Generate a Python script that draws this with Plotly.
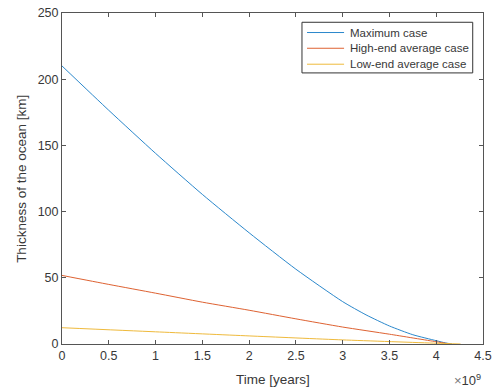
import plotly.graph_objects as go

# Ocean thickness over time for three scenarios (time in years, thickness in km)
t_max = [0, 0.5e9, 1.0e9, 1.5e9, 2.0e9, 2.5e9, 3.0e9, 3.25e9, 3.5e9, 3.75e9, 4.0e9, 4.1e9, 4.17e9]
h_max = [210, 176.5, 144, 113, 84, 56.5, 32, 22, 13.6, 7.0, 2.5, 0.8, 0]

t_high = [0, 0.5e9, 1.0e9, 1.5e9, 2.0e9, 2.5e9, 3.0e9, 3.5e9, 4.0e9, 4.15e9]
h_high = [51.8, 45.0, 38.4, 31.6, 25.5, 19.0, 12.8, 7.4, 1.7, 0]

t_low = [0, 1.0e9, 2.0e9, 3.0e9, 4.0e9, 4.26e9]
h_low = [12.3, 9.2, 6.1, 3.1, 0.6, 0]

x_ticks = [0, 0.5e9, 1.0e9, 1.5e9, 2.0e9, 2.5e9, 3.0e9, 3.5e9, 4.0e9, 4.5e9]
x_tick_text = ["0", "0.5", "1", "1.5", "2", "2.5", "3", "3.5", "4", "4.5"]
y_ticks = [0, 50, 100, 150, 200, 250]

series = [
    ("Maximum case", t_max, h_max, "#2B88CC"),
    ("High-end average case", t_high, h_high, "#DE6232"),
    ("Low-end average case", t_low, h_low, "#EFBA3C"),
]

axis_color = "#555555"
text_color = "#383838"
font_family = "Liberation Sans, Arial, sans-serif"

fig = go.Figure()
for name, t, h, color in series:
    fig.add_trace(go.Scatter(x=t, y=h, mode="lines", name=name, showlegend=False,
                             line=dict(color=color, width=1, shape="spline", smoothing=0.6)))

common_axis = dict(showgrid=False, zeroline=False, showline=True, linecolor=axis_color,
                   linewidth=1, mirror="ticks", ticks="inside", ticklen=4,
                   tickcolor=axis_color, automargin=False,
                   tickfont=dict(size=12.5, color=text_color))

fig.update_layout(
    width=500, height=392,
    margin=dict(l=62, r=17, t=13, b=48),
    paper_bgcolor="white", plot_bgcolor="white",
    font=dict(family=font_family, color=text_color, size=12.5),
    showlegend=False,
    xaxis=dict(range=[0, 4.5e9], tickvals=x_ticks, ticktext=x_tick_text, **common_axis),
    yaxis=dict(range=[0, 250], tickvals=y_ticks, **common_axis),
)

# Axis titles
fig.add_annotation(x=0.5, y=-0.106, xref="paper", yref="paper", xanchor="center", yanchor="middle",
                   text="Time [years]", showarrow=False, font=dict(size=13.5, color=text_color))
fig.add_annotation(x=-0.0965, y=0.5, xref="paper", yref="paper", xanchor="center", yanchor="middle",
                   text="Thickness of the ocean [km]", textangle=-90, showarrow=False,
                   font=dict(size=13.5, color=text_color))

# Exponent label for the time axis
fig.add_annotation(x=0.999, y=-0.08, xref="paper", yref="paper", xanchor="right", yanchor="top",
                   text="<span style='color:#777777'>×</span>10<sup>9</sup>", showarrow=False,
                   font=dict(size=13, color=text_color))

# Legend box in the upper right corner
leg_x0, leg_x1, leg_y0, leg_y1 = 0.570, 0.9756, 0.819, 0.972
line_x0, line_x1, text_x = 0.582, 0.670, 0.679
row_y = [0.941, 0.8935, 0.8453]
fig.add_shape(type="rect", xref="paper", yref="paper", x0=leg_x0, x1=leg_x1, y0=leg_y0, y1=leg_y1,
              line=dict(color="#333333", width=1), fillcolor="white", layer="above")
for (name, _, _, color), ry in zip(series, row_y):
    fig.add_shape(type="line", xref="paper", yref="paper", x0=line_x0, x1=line_x1, y0=ry, y1=ry,
                  line=dict(color=color, width=1), layer="above")
    fig.add_annotation(x=text_x, y=ry, xref="paper", yref="paper", xanchor="left", yanchor="middle",
                       text=name, showarrow=False, font=dict(size=11.5, color=text_color))

fig.write_html("out.html")
